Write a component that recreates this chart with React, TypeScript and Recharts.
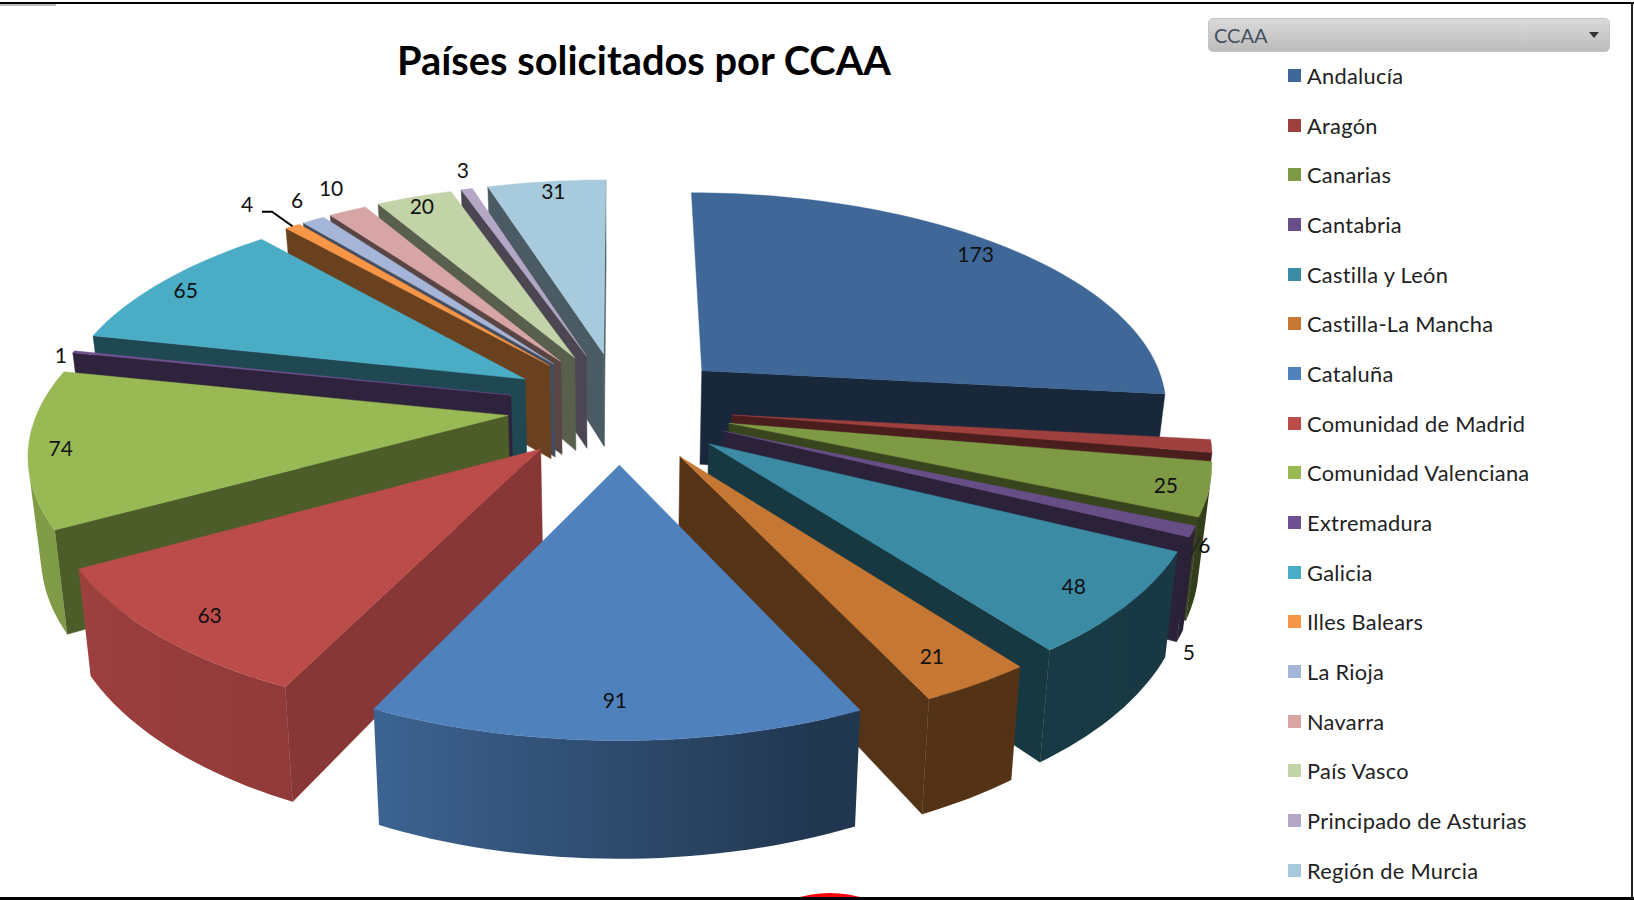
import React from 'react';
import { PieChart, Pie, Legend } from 'recharts';

const regions = ['Andalucía','Aragón','Canarias','Cantabria','Castilla y León','Castilla-La Mancha','Cataluña','Comunidad de Madrid','Comunidad Valenciana','Extremadura','Galicia','Illes Balears','La Rioja','Navarra','País Vasco','Principado de Asturias','Región de Murcia'];
const requests = [173,6,25,5,48,21,91,63,74,1,65,4,6,10,20,3,31];
const colors = ['#3f6797','#9e403d','#7e9a45','#674e87','#3a8ba3','#c67733','#4f81bd','#bb4c4a','#98b954','#6f5191','#4aacc5','#f79646','#a5b5d8','#d7a5a5','#c3d3a8','#b4a7c6','#a7cbdc'];
// depth order of painting: indices into regions, furthest first
const paintOrder = [16,15,14,13,12,11,10,9,8,7,0,1,2,3,4,5,6];
// radial wall darkness per slice
const wallShade = [.38,.47,.45,.42,.4,.43,.42,.72,.5,.42,.42,.43,.42,.42,.45,.42,.45];
// label placement: radius fraction, and angle offset in degrees from slice bisector
const labelRadius = [.91,1.04,.9,1.18,.878,.878,.872,.876,.91,1,.909,1.178,1.125,1.15,.934,1.125,.941];
const labelAngle = [-1.7,23.8,.7,22,1,1.1,0,-1.5,-.5,-.7,.15,.3,2.5,2.5,.6,1.8,1.1];

const rows = regions.map((name, i) => ({ name, value: requests[i] }));

const EXPLODE_X = .24, EXPLODE_Y = .26, PERSP = .15, TILT = 206 / 450, DEPTH = 92 / 450, FLOOR = .978;
const rad = (d: number) => d * Math.PI / 180;
const hex = (c: string, f: number) => {
  const n = parseInt(c.slice(1), 16);
  const p = (v: number) => Math.round(v * f).toString(16).padStart(2, '0');
  return '#' + p((n >> 16) & 255) + p((n >> 8) & 255) + p(n & 255);
};
const arcShade = (a: number) => {
  const stops: [number, number][] = [[90,.4],[150,.42],[160,.42],[205,.77],[240,.84],[270,.85],[360,.85]];
  for (let i = 1; i < stops.length; i++) {
    if (a <= stops[i][0]) {
      const [a0, s0] = stops[i-1], [a1, s1] = stops[i];
      return s0 + (s1 - s0) * (Math.max(a, a0) - a0) / (a1 - a0);
    }
  }
  return .85;
};

type P = [number, number];
const projector = (cx: number, cy: number, S: number, mid: number, ex = EXPLODE_X) => (clock: number, r: number, low = false): P => {
  const X = r * Math.sin(rad(clock)) + ex * Math.sin(rad(mid));
  const Y = r * Math.cos(rad(clock)) + EXPLODE_Y * Math.cos(rad(mid));
  const w = 1 + PERSP * Y;
  let x = S * X / w, y = -S * TILT * Y / w;
  if (low) { x *= FLOOR; y += S * DEPTH / w; }
  return [cx + x, cy + y];
};
const path = (pts: P[]) => 'M' + pts.map(p => p[0].toFixed(1) + ',' + p[1].toFixed(1)).join('L') + 'Z';
const area = (pts: P[]) => pts.reduce((s, p, i) => { const q = pts[(i + 1) % pts.length]; return s + p[0] * q[1] - q[0] * p[1]; }, 0);

const Slice = (pass: number) => (props: any) => {
  const i = regions.indexOf(props.name ?? props.payload?.name);
  if (i !== pass) return <g />;
  const a0 = 90 - props.startAngle, a1 = 90 - props.endAngle;
  const mid = (a0 + a1) / 2;
  const pr = projector(props.cx, props.cy, props.outerRadius, mid);
  const steps = Math.max(1, Math.ceil((a1 - a0) / 1.5));
  const angs = Array.from({ length: steps + 1 }, (_, k) => a0 + (a1 - a0) * k / steps);
  const top: P[] = [pr(0, 0), ...angs.map(a => pr(a, 1))];
  const sign = Math.sign(area(top));
  const col = colors[i];
  const wall = hex(col, wallShade[i]);
  const faces: React.ReactNode[] = [];
  const radial = (a: number, key: string) => {
    if (regions[i] === 'Andalucía' && key === 's') return; // edge-on in the reference view
    const q: P[] = key === 's'
      ? [pr(0, 0), pr(a, 1), pr(a, 1, true), pr(0, 0, true)]
      : [pr(a, 1), pr(0, 0), pr(0, 0, true), pr(a, 1, true)];
    if (Math.sign(area(q)) !== sign) faces.push(<path key={key} d={path(q)} fill={wall} stroke={wall} strokeWidth={.5} />);
  };
  radial(a0, 's'); radial(a1, 'e');
  const seen: number[] = [];
  for (let k = 0; k < steps; k++) {
    const q: P[] = [pr(angs[k], 1), pr(angs[k + 1], 1), pr(angs[k + 1], 1, true), pr(angs[k], 1, true)];
    if (Math.sign(area(q)) !== sign) seen.push(k);
  }
  if (seen.length) {
    const vis = angs.slice(seen[0], seen[seen.length - 1] + 2);
    const upper = vis.map(a => pr(a, 1));
    const lower = vis.map(a => pr(a, 1, true)).reverse();
    const x1 = upper[0][0], x2 = upper[upper.length - 1][0];
    const id = 'arcwall' + i;
    faces.push(
      <linearGradient key="g" id={id} gradientUnits="userSpaceOnUse" x1={x1} x2={x2 === x1 ? x1 + 1 : x2} y1={0} y2={0}>
        {vis.map((a, k) => (
          <stop key={k} offset={x2 === x1 ? 0 : (upper[k][0] - x1) / (x2 - x1)} stopColor={hex(col, arcShade(a))} />
        ))}
      </linearGradient>,
      <path key="arc" d={path([...upper, ...lower])} fill={`url(#${id})`} />
    );
  }
  return <g>{faces}<path d={path(top)} fill={col} stroke={col} strokeWidth={.4} /></g>;
};

const SliceLabel = (props: any) => {
  const i = regions.indexOf(props.name ?? props.payload?.name);
  const mid = props.midAngle !== undefined ? 90 - props.midAngle : 0;
  const pr = projector(props.cx - 2, props.cy, props.outerRadius, mid, EXPLODE_Y);
  const [x, y] = pr(mid + labelAngle[i], labelRadius[i]);
  const rim = projector(props.cx, props.cy, props.outerRadius, mid)(mid, 1);
  return (
    <g>
      {regions[i] === 'Illes Balears' && <path d={`M${x + 15},${y + 8}h10L${rim[0]},${rim[1]}`} fill="none" stroke="#000" strokeWidth={2} />}
      {regions[i] === 'Aragón' && <path d={`M${x - 13},${y + 10}L${x - 4},${y - 8}`} fill="none" stroke="#222" strokeWidth={1.5} />}
      <text x={x} y={y} textAnchor="middle" dominantBaseline="central" fontFamily="Lato" fontSize={21} fill="#111">{props.value}</text>
    </g>
  );
};

const LegendList = () => (
  <div>
    {regions.map((name, i) => (
      <div key={name} style={{ height: 49.7, display: 'flex', alignItems: 'center', fontFamily: 'Lato', fontSize: 21.8, color: '#222', whiteSpace: 'nowrap', letterSpacing: .3 }}>
        <span style={{ width: 13, height: 13, background: colors[i], marginRight: 6, display: 'inline-block' }} />
        {name}
      </div>
    ))}
  </div>
);

export default function App() {
  return (
    <div style={{ position: 'absolute', left: 0, top: 0, width: 1634, height: 900, background: '#fff', overflow: 'hidden' }}>
      <PieChart width={1634} height={900} margin={{ top: 0, right: 0, bottom: 0, left: 0 }}>
        {paintOrder.map((idx, n) => (
          <Pie key={idx} data={rows} dataKey="value" nameKey="name" cx={620} cy={407} innerRadius={0} outerRadius={469}
            startAngle={90} endAngle={-270} stroke="none" isAnimationActive={false} legendType="none"
            shape={Slice(idx)} labelLine={false} label={n === paintOrder.length - 1 ? SliceLabel : false} />
        ))}
        <Legend content={LegendList} layout="vertical" align="right" verticalAlign="top"
          wrapperStyle={{ position: 'absolute', left: 1288, top: 50.5, width: 330 }} />
      </PieChart>
      <div style={{ position: 'absolute', left: 0, width: 1288, top: 33, textAlign: 'center', fontFamily: 'Lato', fontWeight: 700, fontSize: 39.8, lineHeight: '54px', color: '#000' }}>Países solicitados por CCAA</div>
      <div style={{ position: 'absolute', left: 1208, top: 18, width: 402, height: 34, boxSizing: 'border-box', borderRadius: 5, border: '1px solid #c4c4c4', background: 'linear-gradient(#dadada,#bcbcbc)', fontFamily: 'Lato', fontSize: 20, lineHeight: '32px', paddingLeft: 5, color: '#44505e' }}>CCAA</div>
      <div style={{ position: 'absolute', left: 1589, top: 32, width: 0, height: 0, borderLeft: '5px solid transparent', borderRight: '5px solid transparent', borderTop: '6px solid #333' }} />
      <div style={{ position: 'absolute', left: 0, top: 2, width: 1634, height: 2, background: '#000' }} />
      <div style={{ position: 'absolute', left: 0, top: 4, width: 56, height: 2, background: '#bbb' }} />
      <div style={{ position: 'absolute', left: 1631, top: 2, width: 2, height: 898, background: '#222' }} />
      <div style={{ position: 'absolute', left: 782, top: 893, width: 96, height: 40, borderRadius: '50%', background: '#f00' }} />
      <div style={{ position: 'absolute', left: 0, top: 897, width: 1634, height: 3, background: '#000' }} />
    </div>
  );
}
